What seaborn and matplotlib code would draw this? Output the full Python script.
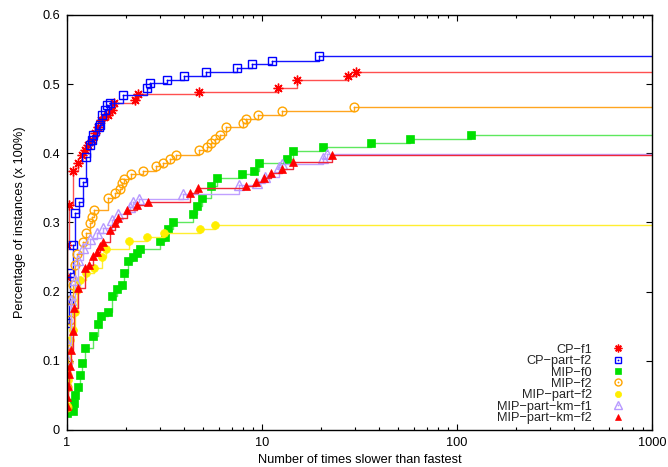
import numpy as np
import pandas as pd
import matplotlib
matplotlib.use("Agg")
import matplotlib.pyplot as plt
import seaborn as sns
from matplotlib.lines import Line2D
from matplotlib.ticker import FixedLocator, LogLocator, NullFormatter

# ---------------- data ----------------
series_names = ["CP−f1", "CP−part−f2", "MIP−f0", "MIP−f2",
                "MIP−part−f2", "MIP−part−km−f1", "MIP−part−km−f2"]

cp_f1_x = [1.0, 1.0, 1.024, 1.073, 1.139, 1.194, 1.237, 1.281, 1.343, 1.392,
           1.442, 1.494, 1.548, 1.623, 1.701, 1.74, 2.23, 2.31, 4.75, 12.1,
           15.1, 27.6, 30.3]
cp_f1_y = [0.221, 0.267, 0.325, 0.374, 0.386, 0.398, 0.405, 0.412, 0.419, 0.429,
           0.438, 0.448, 0.452, 0.455, 0.463, 0.473, 0.477, 0.486, 0.489, 0.494,
           0.506, 0.512, 0.518]

cp_part_f2_x = [1.0, 1.024, 1.036, 1.073, 1.099, 1.152, 1.208, 1.251, 1.312,
                1.343, 1.359, 1.459, 1.476, 1.512, 1.566, 1.604, 1.662, 1.937,
                2.57, 2.66, 3.26, 3.98, 5.16, 7.44, 8.90, 11.3, 19.6]
cp_part_f2_y = [0.155, 0.188, 0.227, 0.267, 0.314, 0.330, 0.358, 0.395, 0.412,
                0.419, 0.426, 0.438, 0.441, 0.455, 0.463, 0.470, 0.473, 0.484,
                0.494, 0.502, 0.506, 0.512, 0.518, 0.523, 0.529, 0.534, 0.541]

mip_f0_x = [1.0, 1.073, 1.086, 1.099, 1.139, 1.166, 1.194, 1.237, 1.359, 1.442,
            1.494, 1.623, 1.701, 1.805, 1.914, 1.960, 2.055, 2.18, 2.28, 2.37,
            3.0, 3.18, 3.30, 3.50, 4.42, 4.64, 4.92, 5.48, 5.89, 7.9,
            9.1, 9.64, 13.4, 14.4, 20.5, 36.3, 57.3, 117.7]
mip_f0_y = [0.025, 0.027, 0.039, 0.051, 0.062, 0.080, 0.097, 0.119, 0.136, 0.153,
            0.165, 0.171, 0.194, 0.204, 0.210, 0.227, 0.244, 0.250, 0.256, 0.262,
            0.273, 0.279, 0.291, 0.301, 0.312, 0.324, 0.335, 0.353, 0.364, 0.370,
            0.374, 0.386, 0.392, 0.403, 0.409, 0.415, 0.421, 0.4265]

mip_f2_x = [1.0, 1.0, 1.0, 1.012, 1.012, 1.036, 1.048, 1.073, 1.099, 1.125,
            1.208, 1.251, 1.312, 1.343, 1.375, 1.623, 1.763, 1.869, 1.914, 1.960,
            2.13, 2.45, 2.86, 3.10, 3.37, 3.62, 4.75, 5.22, 5.48, 5.74,
            6.09, 6.54, 7.98, 8.27, 9.53, 12.7, 29.6]
mip_f2_y = [0.033, 0.062, 0.080, 0.098, 0.123, 0.159, 0.188, 0.210, 0.239, 0.254,
            0.272, 0.285, 0.299, 0.308, 0.318, 0.335, 0.343, 0.348, 0.357, 0.363,
            0.370, 0.374, 0.382, 0.386, 0.392, 0.398, 0.405, 0.409, 0.415, 0.421,
            0.426, 0.438, 0.444, 0.450, 0.455, 0.461, 0.467]

mip_part_f2_x = [1.0, 1.012, 1.036, 1.073, 1.099, 1.125, 1.166, 1.251, 1.375,
                 1.512, 1.585, 2.08, 2.57, 3.14, 4.81, 5.74]
mip_part_f2_y = [0.035, 0.072, 0.130, 0.145, 0.171, 0.202, 0.217, 0.227, 0.234,
                 0.250, 0.262, 0.273, 0.279, 0.285, 0.291, 0.296]

mip_km_f1_x = [1.0, 1.0, 1.048, 1.099, 1.139, 1.208, 1.312, 1.425, 1.530, 1.701,
               1.827, 2.10, 2.18, 2.34, 3.93, 7.62, 9.42, 10.4, 12.2, 12.7,
               20.5, 21.6]
mip_km_f1_y = [0.103, 0.126, 0.188, 0.217, 0.246, 0.263, 0.276, 0.285, 0.292, 0.304,
               0.312, 0.322, 0.330, 0.334, 0.341, 0.354, 0.357, 0.366, 0.380, 0.385,
               0.393, 0.399]

mip_km_f2_x = [1.0, 1.0, 1.012, 1.024, 1.036, 1.048, 1.073, 1.086, 1.139, 1.237,
               1.297, 1.359, 1.425, 1.476, 1.530, 1.662, 1.763, 1.827, 2.03, 2.28,
               2.60, 4.27, 4.69, 8.27, 9.31, 10.2, 11.1, 12.7, 14.4, 22.8]
mip_km_f2_y = [0.035, 0.048, 0.064, 0.081, 0.093, 0.116, 0.143, 0.176, 0.205, 0.234,
               0.239, 0.252, 0.257, 0.266, 0.272, 0.289, 0.299, 0.306, 0.318, 0.325,
               0.330, 0.343, 0.350, 0.353, 0.359, 0.364, 0.372, 0.377, 0.387, 0.398]

x_ticks = [1, 10, 100, 1000]
x_tick_labels = ["1", "10", "100", "1000"]
y_ticks = [0, 0.1, 0.2, 0.3, 0.4, 0.5, 0.6]
y_tick_labels = ["0", "0.1", "0.2", "0.3", "0.4", "0.5", "0.6"]
x_max = 1000

all_x = [cp_f1_x, cp_part_f2_x, mip_f0_x, mip_f2_x, mip_part_f2_x, mip_km_f1_x, mip_km_f2_x]
all_y = [cp_f1_y, cp_part_f2_y, mip_f0_y, mip_f2_y, mip_part_f2_y, mip_km_f1_y, mip_km_f2_y]

# ---------------- styles ----------------
styles = [
    dict(marker=(8, 2, 0), ms=7.0, mfc="none", mec="#ff0000", mew=1.0, line="#ff5050", dot=False),
    dict(marker="s", ms=6.0, mfc="none", mec="#0000ff", mew=1.0, line="#1414ff", dot=True),
    dict(marker="s", ms=5.6, mfc="#00e000", mec="#00e000", mew=0.5, line="#5ee85e", dot=False),
    dict(marker="o", ms=6.3, mfc="none", mec="#ffa500", mew=1.0, line="#ffa520", dot=True),
    dict(marker="o", ms=5.6, mfc="#ffee00", mec="#ffee00", mew=0.5, line="#ffee30", dot=False),
    dict(marker="^", ms=6.5, mfc="none", mec="#b799ff", mew=1.0, line="#c0a0ff", dot=True),
    dict(marker="^", ms=5.6, mfc="#ff0000", mec="#ff0000", mew=0.5, line="#f02838", dot=False),
]

sns.set_style("ticks")
plt.rcParams["font.family"] = ["Liberation Sans", "DejaVu Sans"]
plt.rcParams["font.size"] = 9.2

fig = plt.figure(figsize=(6.68, 4.67), dpi=100)
ax = fig.add_axes([67 / 668, 1 - 430 / 467, (652 - 67) / 668, (430 - 15) / 467])
ax.set_xscale("log")

handles = []
for name, xs, ys, st in zip(series_names, all_x, all_y, styles):
    line_df = pd.DataFrame({"x": list(xs) + [x_max], "y": list(ys) + [ys[-1]]})
    pts_df = pd.DataFrame({"x": xs, "y": ys})
    sns.lineplot(data=line_df, x="x", y="y", ax=ax, estimator=None, sort=False,
                 drawstyle="steps-post", color=st["line"], linewidth=1.0)
    sns.lineplot(data=pts_df, x="x", y="y", ax=ax, estimator=None, sort=False,
                 linestyle="none", marker=st["marker"], markersize=st["ms"],
                 markerfacecolor=st["mfc"], markeredgecolor=st["mec"],
                 markeredgewidth=st["mew"], color=st["mec"])
    h = Line2D([], [], linestyle="none", marker=st["marker"], markersize=st["ms"] * 0.8,
               markerfacecolor=st["mfc"], markeredgecolor=st["mec"], markeredgewidth=st["mew"])
    if st["dot"]:
        sns.lineplot(data=pts_df, x="x", y="y", ax=ax, estimator=None, sort=False,
                     linestyle="none", marker="o", markersize=1.3,
                     markerfacecolor=st["mec"], markeredgecolor=st["mec"],
                     markeredgewidth=0.0, color=st["mec"])
        hd = Line2D([], [], linestyle="none", marker="o", markersize=1.3,
                    markerfacecolor=st["mec"], markeredgecolor=st["mec"], markeredgewidth=0.0)
        handles.append((h, hd))
    else:
        handles.append(h)

ax.set_xlim(1, 1000)
ax.set_ylim(0, 0.6)
ax.xaxis.set_major_locator(FixedLocator(x_ticks))
ax.set_xticklabels(x_tick_labels)
ax.xaxis.set_minor_locator(LogLocator(base=10, subs=range(2, 10)))
ax.xaxis.set_minor_formatter(NullFormatter())
ax.set_yticks(y_ticks)
ax.set_yticklabels(y_tick_labels)

ax.tick_params(which="both", direction="in", top=True, right=True, color="black")
ax.tick_params(which="major", length=4.5, width=0.8, pad=5, labelsize=9.2, labelcolor="black")
ax.tick_params(which="minor", length=2.5, width=0.8)
for sp in ax.spines.values():
    sp.set_visible(True)
    sp.set_color("black")
    sp.set_linewidth(1.0)

ax.set_xlabel("Number of times slower than fastest", fontsize=9.2, labelpad=3.5, color="black")
ax.set_ylabel("Percentage of instances (x 100%)", fontsize=9.2, labelpad=12, color="black")

leg = ax.legend(handles, series_names, loc="lower right",
                bbox_to_anchor=(624 / 668, 1 - 424 / 467), bbox_transform=fig.transFigure,
                frameon=False, markerfirst=False, handlelength=1.0, handletextpad=1.5,
                labelspacing=-0.05, borderpad=0, borderaxespad=0, fontsize=9.2)

fig.savefig("out.png", dpi=100)
